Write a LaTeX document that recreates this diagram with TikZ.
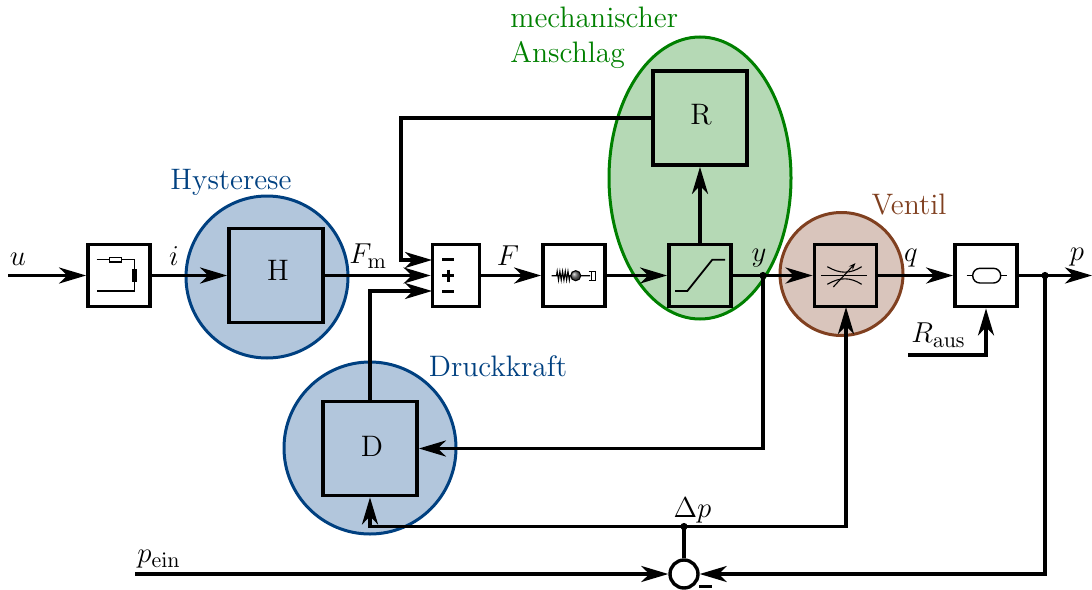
\documentclass[tikz,border=0pt]{standalone}
\usepackage{amsmath}
\usetikzlibrary{arrows.meta,calc,decorations.pathmorphing,shapes.geometric}
\DeclareMathSizes{14.8}{14.8}{11.2}{8.4}
\definecolor{tumblue}{RGB}{0,64,128}
\definecolor{tumgreen}{RGB}{0,128,0}
\definecolor{tumbrown}{RGB}{128,64,32}
\definecolor{fillblue}{RGB}{178,198,220}
\definecolor{fillgreen}{RGB}{181,217,181}
\definecolor{fillbrown}{RGB}{217,197,188}
\tikzset{
  x=0.5pt,y=-0.5pt,
  txt/.style={inner sep=0,font=\fontsize{14.8}{17}\selectfont},
  bx/.style={draw,line width=1.9pt,inner sep=0,minimum width=31pt,minimum height=31pt},
  bigbx/.style={bx,minimum width=47pt,minimum height=47pt},
  whitebx/.style={bx,fill=white},
  wire/.style={line width=1.55pt,line join=miter},
  arr/.style={wire,-{Stealth[length=13.5pt,width=8pt,inset=4pt]}},
  icon/.style={line width=0.55pt},
  icontk/.style={line width=0.9pt},
  jct/.style={circle,fill=black,inner sep=0,minimum size=3.6pt},
  ring/.style={line width=1.5pt},
}
\begin{document}
\begin{tikzpicture}
\useasboundingbox (0,0) rectangle (1092,589);
% regions
\node[ring,ellipse,draw=tumgreen,fill=fillgreen,inner sep=0,minimum width=91pt,minimum height=141pt] (cR) at (700,178) {};
\node[ring,circle,draw=tumblue,fill=fillblue,inner sep=0,minimum size=81pt] (cH) at (267,277) {};
\node[ring,circle,draw=tumblue,fill=fillblue,inner sep=0,minimum size=86pt] (cD) at (370,448) {};
\node[ring,circle,draw=tumbrown,fill=fillbrown,inner sep=0,minimum size=61.5pt] (cV) at (841.5,274) {};
% blocks
\node[whitebx] (b1) at (119,275.5) {};
\node[bigbx] (H) at (276,275.5) {};
\node[whitebx,minimum width=23.5pt] (sum) at (456,275.5) {};
\node[whitebx] (spring) at (574,275.5) {};
\node[bx] (sat) at (700,275.5) {};
\node[bigbx] (R) at (700,118) {};
\node[bx] (valve) at (845.5,275.5) {};
\node[whitebx] (tank) at (986,275.5) {};
\node[bigbx] (D) at (370,448.5) {};
\node[circle,draw,line width=1.7pt,fill=white,inner sep=0,minimum size=14pt] (cmp) at (684,574) {};
% junctions and free ends
\coordinate (uin) at (8,275.5);
\coordinate (pout) at (1092,275.5);
\coordinate (pein) at (135,574);
\coordinate (raus) at (908,355);
\coordinate (sumA) at (432,260);
\coordinate (sumB) at (432,291);
\coordinate (bendR) at (401,118);
\coordinate (valveIn) at (846,307);
\node[jct] (jy) at (763,275.5) {};
\node[jct] (jp) at (1045,275.5) {};
\node[jct] (jd) at (684,526.5) {};
% connectors
\draw[arr] (uin) -- (b1);
\draw[arr] (b1) -- (H);
\draw[arr] (H) -- (sum);
\draw[arr] (R.west) -- (bendR) -- (bendR |- sumA) -- (sumA);
\draw[arr] (D.north) -- (D.north |- sumB) -- (sumB);
\draw[arr] (sum) -- (spring);
\draw[arr] (spring) -- (sat);
\draw[arr] (sat) -- (R);
\draw[arr] (sat) -- (valve);
\draw[arr] (jy.center) -- (jy |- D.east) -- (D.east);
\draw[arr] (valve) -- (tank);
\draw[arr] (tank) -- (pout);
\draw[arr] (jp.center) -- (jp |- cmp) -- (cmp);
\draw[arr] (pein) -- (cmp);
\draw[wire] (cmp) -- (jd.center);
\draw[arr] (jd.center) -- (D.south |- jd) -- (D.south);
\draw[arr] (jd.center) -- (valveIn |- jd) -- (valveIn);
\draw[arr] (raus) -- (raus -| tank.south) -- (tank.south);
% sum signs
\draw[line width=1.5pt] (442.3,259.7) -- (454.3,259.7) (442.3,291) -- (454.3,291)
  (442.3,275.7) -- (454.3,275.7) (448.3,269.7) -- (448.3,281.7);
\draw[line width=1.5pt] (699,586.5) -- (712,586.5);
% icon: coil
\draw[icon] (96.7,259.3) -- (109.3,259.3) (121.3,259.3) -- (134.3,259.3) -- (134.3,291) -- (96.7,291);
\draw[icon] (109.3,257.2) rectangle (121.3,262);
\fill (131.7,269.3) rectangle (137,281.7);
% icon: spring
\draw[icon] (551.7,275.7) -- (556.5,275.7) decorate[decoration={zigzag,segment length=1.35pt,amplitude=2.2pt}] {-- (570,275.7)} -- (590,275.7);
\shade[ball color=black!60] (575.7,275.7) circle [radius=5];
\draw[icon] (575.7,275.7) circle [radius=5];
\draw[icon] (588.5,271.7) -- (595.7,271.7) -- (595.7,280.3) -- (588.5,280.3) (591.7,271.7) -- (591.7,280.3);
% icon: saturation
\draw[icontk] (675,291) -- (687.3,291) -- (712.3,259.7) -- (725,259.7);
% icon: valve
\draw[icon] (821,275.7) -- (867.3,275.7);
\draw[icon] (827.3,266.7) .. controls (840,274) and (850,274) .. (861.7,266.7);
\draw[icon] (827.3,284.3) .. controls (840,277) and (850,277) .. (861.7,284.3);
\draw[icon,-{Stealth[length=3.5pt,width=2.6pt]}] (833.3,287) -- (855.5,263);
% icon: tank
\draw[icon] (966.7,275.7) -- (972.7,275.7) (1000.7,275.7) -- (1006.7,275.7);
\draw[line width=0.7pt,rounded corners=3.6pt] (972.7,268.3) rectangle (1000.7,283);
% labels
\node[txt] (lH) at (278,270.5) {H};
\node[txt] (lR) at (701,115) {R};
\node[txt] (lD) at (372,446) {D};
\node[txt] (lu) at (18,259) {$u$};
\node[txt] (li) at (174,256) {$i$};
\node[txt] (lFm) at (368,256) {$F_{\mathrm{m}}$};
\node[txt] (lF) at (508,256) {$F$};
\node[txt] (ly) at (759,258) {$y$};
\node[txt] (lq) at (911,258) {$q$};
\node[txt] (lp) at (1077,257) {$p$};
\node[txt] (lraus) at (938.5,335) {$R_{\mathrm{aus}}$};
\node[txt] (ldp) at (692.5,510) {$\Delta p$};
\node[txt] (lpein) at (159,559) {$p_{\mathrm{ein}}$};
\node[txt,text=tumblue] (lhy) at (231,182) {Hysterese};
\node[txt,text=tumblue] (ldr) at (498,366) {Druckkraft};
\node[txt,text=tumbrown] (lve) at (909,205) {Ventil};
\node[txt,text=tumgreen,anchor=west] (lme) at (510,17.5) {mechanischer};
\node[txt,text=tumgreen,anchor=west] (lan) at (510,55) {Anschlag};
\end{tikzpicture}
\end{document}
